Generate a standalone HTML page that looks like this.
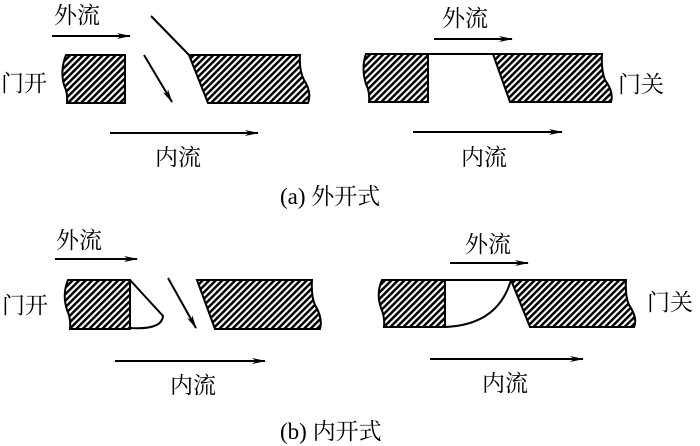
<!DOCTYPE html>
<html><head><meta charset="utf-8"><style>
html,body{margin:0;padding:0;background:#fff;}
svg{display:block;}
text{font-family:"Liberation Serif","Noto Serif CJK SC","Noto Sans CJK SC",serif;font-size:23px;fill:#000;}
</style></head><body>
<svg width="700" height="446" viewBox="0 0 700 446" xmlns="http://www.w3.org/2000/svg">
<defs>
<pattern id="h" patternUnits="userSpaceOnUse" width="4.6" height="4.6" patternTransform="rotate(45)">
<rect width="4.6" height="4.6" fill="#fff"/>
<rect x="0" y="0" width="2.5" height="4.6" fill="#000"/>
</pattern>
<marker id="a" markerWidth="14" markerHeight="8" refX="13" refY="4" orient="auto" markerUnits="userSpaceOnUse">
<path d="M0,1 L14,4 L0,7 L4,4 Z" fill="#000"/>
</marker>
</defs>
<g stroke="#000" stroke-width="2" fill="url(#h)">
<path d="M66,55 L125,55 L125,103 L67,103 Q68,93 64,85 Q60,70 66,55 Z"/>
<path d="M189,55 L300,55 Q299,70 304,80 Q312,92 308,103 L208,103 Z"/>
<path d="M366,54 L428,54 L428,102 L369,102 Q370,92 366,84 Q361,68 366,54 Z"/>
<path d="M493,54 L602,54 Q601,70 605,80 Q614,92 611,102 L510,102 Z"/>
<path d="M68,280 L130,280 L130,329 L70,329 Q71,318 67,310 Q62,294 68,280 Z"/>
<path d="M197,280 L312,280 Q311,296 315,305 Q323,318 320,329 L215,329 Z"/>
<path d="M382,280 L445,280 L445,327 L384,327 Q385,317 381,308 Q376,293 382,280 Z"/>
<path d="M511,280 L626,280 Q625,296 629,305 Q638,318 634,327 L530,327 Z"/>
</g>
<g stroke="#000" stroke-width="2" fill="none">
<line x1="151" y1="16" x2="189" y2="55"/>
<line x1="428" y1="54" x2="493" y2="54"/>
<path d="M130,280 L163,316 Q162,330 130,328"/>
<path d="M445,280 L511,280 Q498,325 445,327"/>
</g>
<g stroke="#000" stroke-width="2" marker-end="url(#a)">
<line x1="52" y1="36" x2="130" y2="36"/>
<line x1="144" y1="55" x2="172" y2="102"/>
<line x1="110" y1="133" x2="258" y2="133"/>
<line x1="434" y1="39" x2="512" y2="39"/>
<line x1="413" y1="132" x2="562" y2="132"/>
<line x1="55" y1="259" x2="137" y2="259"/>
<line x1="168" y1="278" x2="196" y2="328"/>
<line x1="115" y1="361" x2="265" y2="361"/>
<line x1="450" y1="263" x2="528" y2="263"/>
<line x1="430" y1="359" x2="583" y2="359"/>
</g>
<text x="54" y="23">外流</text>
<text x="1" y="91">门开</text>
<text x="155" y="165">内流</text>
<text x="442" y="26">外流</text>
<text x="618" y="92">门关</text>
<text x="461" y="165">内流</text>
<text x="280" y="204">(a) 外开式</text>
<text x="56" y="248">外流</text>
<text x="2" y="313">门开</text>
<text x="170" y="393">内流</text>
<text x="465" y="252">外流</text>
<text x="647" y="310">门关</text>
<text x="482" y="391">内流</text>
<text x="280" y="439">(b) 内开式</text>
</svg>
</body></html>
